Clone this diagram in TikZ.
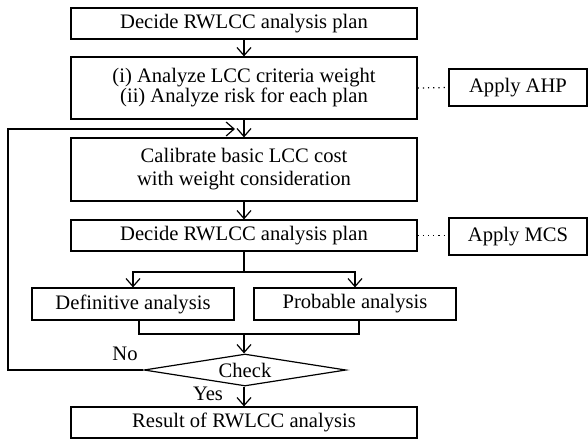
\documentclass[tikz,border=0pt]{standalone}
\usepackage{fontspec}
\setmainfont{Liberation Serif}
\usetikzlibrary{arrows.meta,shapes.geometric}
\begin{document}
\begin{tikzpicture}[x=0.5pt,y=-0.5pt,
  every node/.style={font=\fontsize{10.3pt}{11.5pt}\selectfont, inner sep=0pt, line width=0.6pt},
  box/.style={draw, rectangle, align=center},
  chkbox/.style={draw, diamond, aspect=6.3, minimum width=101pt, minimum height=16pt},
  conn/.style={line width=0.6pt},
  arr/.style={conn, -{Straight Barb[length=4pt,width=7pt,line width=0.6pt]}},
  dots/.style={line width=0.6pt, dotted},
  lbl/.style={font=\fontsize{10.3pt}{11.5pt}\selectfont}]
\useasboundingbox (0,0) rectangle (588,440);
\node[box, minimum width=173pt, minimum height=15.5pt] (b1) at (244,23.5) {Decide RWLCC analysis plan};
\node[box, minimum width=173pt, minimum height=31pt, font=\fontsize{10.3pt}{10pt}\selectfont] (b2) at (244,88) {(i) Analyze LCC criteria weight\\(ii) Analyze risk for each plan};
\node[box, minimum width=69pt, minimum height=18.5pt] (ahp) at (518,87.5) {Apply AHP};
\node[box, minimum width=173pt, minimum height=31.5pt, font=\fontsize{10.3pt}{11.5pt}\selectfont] (b3) at (244,169.5) {Calibrate basic LCC cost\\with weight consideration};
\node[box, minimum width=173pt, minimum height=15.5pt] (b4) at (244,235.5) {Decide RWLCC analysis plan};
\node[box, minimum width=69pt, minimum height=18.5pt] (mcs) at (518,236.5) {Apply MCS};
\node[box, minimum width=101pt, minimum height=16pt] (def) at (133,304) {Definitive analysis};
\node[box, minimum width=101pt, minimum height=16pt] (prob) at (355,304) {Probable analysis};
\node[chkbox] (chk) at (245,370) {Check};
\node[box, minimum width=173pt, minimum height=15.5pt] (res) at (244,422.5) {Result of RWLCC analysis};
\node[lbl] (no) at (125,354) {No};
\node[lbl] (yes) at (208,394) {Yes};
\coordinate (loopin) at (235,129);
\coordinate (split) at (244,272);
\coordinate (join) at (244,334);
% arrows
\draw[arr] (b1.south) -- (b2.north);
\draw[arr] (b2.south) -- (b3.north);
\draw[arr] (b3.south) -- (b4.north);
\draw[conn] (b4.south) -- (split);
\draw[arr] (split) -| (def.north);
\draw[arr] (split) -| (prob.north);
\draw[conn] ([xshift=3pt]def.south) |- (join);
\draw[conn] ([xshift=2pt]prob.south) |- (join);
\draw[arr] (join) -- (chk.north -| join);
\draw[arr] (chk.south -| res.north) -- (res.north);
\draw[arr] (chk.west) -- (8,370) -- (8,129) -- (loopin);
\draw[dots] (b2.east) -- (ahp.west);
\draw[dots] (b4.east) -- (b4.east -| mcs.west);
\end{tikzpicture}
\end{document}
